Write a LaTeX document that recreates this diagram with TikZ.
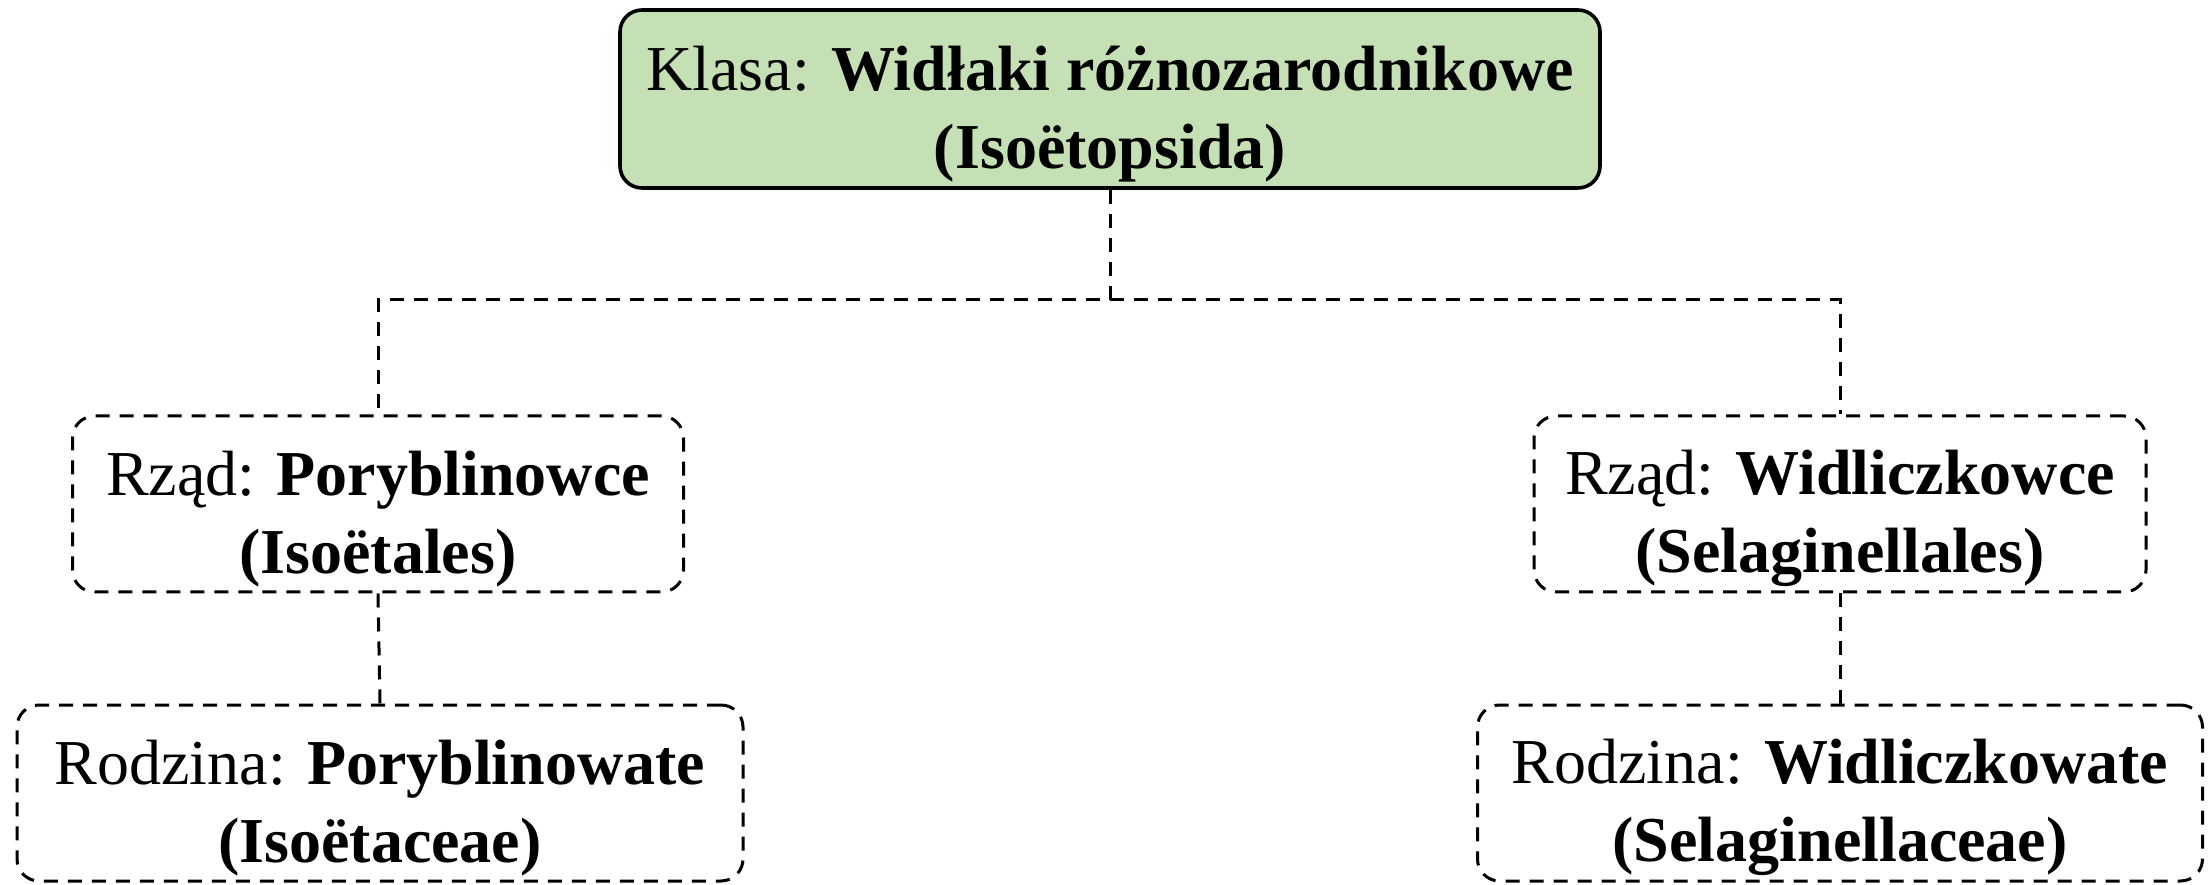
\documentclass[tikz,border=0pt]{standalone}
\usepackage{fontspec}
\setmainfont{Liberation Serif}
\definecolor{boxgreen}{HTML}{C5E0B4}
\newcommand{\mytopstrut}{\rule{0pt}{37pt}}
\begin{document}
\begin{tikzpicture}[x=1pt,y=1pt,
  base/.style={rounded corners=11pt, align=center, inner sep=0pt,
    font=\fontsize{32}{39}\selectfont},
  topbox/.style={base, draw=black, line width=1.8pt, fill=boxgreen,
    minimum width=490pt, minimum height=89pt},
  dbox/.style={base, draw=black, line width=1.5pt, dash pattern=on 7pt off 5pt},
  conn/.style={draw=black, line width=1.5pt, dash pattern=on 7pt off 5pt}]
\useasboundingbox (0,0) rectangle (1105.5,442);
\node[topbox] (klasa) at (555,392.5) {\mytopstrut Klasa: \textbf{Widłaki różnozarodnikowe}\\\textbf{(Isoëtopsida)}};
\node[dbox, minimum width=305.5pt, minimum height=88pt] (rz1) at (189,190) {\mytopstrut Rząd: \textbf{Poryblinowce}\\\textbf{(Isoëtales)}};
\node[dbox, minimum width=306pt, minimum height=88pt] (rz2) at (920,190) {\mytopstrut Rząd: \textbf{Widliczkowce}\\\textbf{(Selaginellales)}};
\node[dbox, minimum width=363pt, minimum height=88pt] (ro1) at (190,45.5) {\mytopstrut Rodzina: \textbf{Poryblinowate}\\\textbf{(Isoëtaceae)}};
\node[dbox, minimum width=362.5pt, minimum height=88pt] (ro2) at (920,45.5) {\mytopstrut Rodzina: \textbf{Widliczkowate}\\\textbf{(Selaginellaceae)}};
\coordinate (hy) at (0,292);
\draw[conn] (klasa.south) -- (klasa.south |- hy) -| (rz1.north);
\draw[conn] (klasa.south |- hy) -| (rz2.north);
\draw[conn] (rz1.south) -- (ro1.north);
\draw[conn] (rz2.south) -- (ro2.north);
\end{tikzpicture}
\end{document}
